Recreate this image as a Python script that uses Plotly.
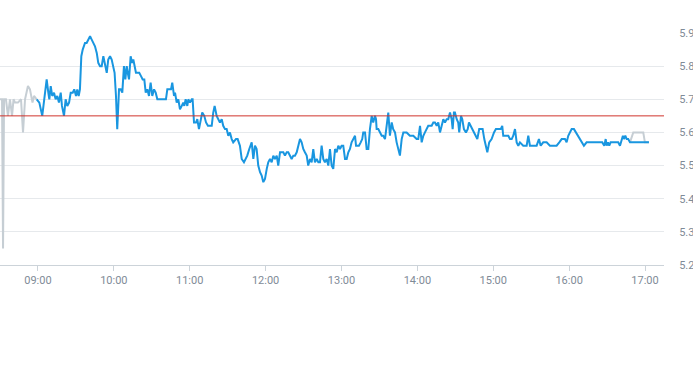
import numpy as np
import pandas as pd
import plotly.graph_objects as go

# ---- data (time in minutes after midnight, price) ----
pre_minutes = [510.0, 511.6, 512.4, 513.2, 514.7, 516.3, 517.9, 519.5, 520.7, 521.9,
               524.2, 526.6, 528.2, 529.8, 532.1, 533.7, 535.7, 536.9, 539.0]
pre_prices = [5.70, 5.70, 5.25, 5.70, 5.70, 5.65, 5.70, 5.65, 5.70, 5.69,
              5.69, 5.70, 5.60, 5.70, 5.74, 5.73, 5.69, 5.71, 5.70]

main_minutes = [
    539.0, 541.1, 543.4, 545.6, 546.9, 548.2, 549.0, 550.1, 551.3, 552.7,
    554.0, 555.3, 556.6, 558.0, 559.0, 560.6, 561.9, 563.2, 564.6, 565.9,
    567.5, 568.7, 570.1, 571.1, 572.2, 573.2, 574.3, 575.4, 576.4, 577.2,
    578.5, 579.8, 581.2, 582.5, 583.8, 585.1, 586.5, 587.7, 589.1, 590.4,
    591.7, 593.0, 594.4, 595.6, 597.0, 598.3, 599.6, 600.6, 601.7, 602.7,
    604.1, 605.4, 606.7, 608.0, 609.1, 610.2, 611.0, 612.0, 613.3, 614.4,
    615.4, 616.5, 617.5, 618.9, 620.1, 621.5, 622.8, 624.1, 625.2, 626.5,
    627.8, 629.1, 630.4, 631.8, 633.1, 634.4, 637.0, 639.1, 641.2, 642.3,
    643.8, 645.2, 646.2, 647.6, 648.4, 649.7, 651.0, 652.3, 653.7, 654.9,
    655.7, 656.8, 658.1, 658.9, 660.2, 661.6, 662.3, 663.4, 665.0, 666.0,
    667.3, 668.7, 669.9, 671.5, 672.9, 674.4, 676.0, 677.4, 678.6, 679.7,
    681.3, 682.6, 683.9, 685.3, 686.5, 687.9, 689.2, 690.5, 691.8, 693.2,
    694.4, 696.6, 697.9, 699.7, 701.1, 702.9, 704.3, 705.5, 707.1, 709.0,
    710.3, 711.6, 712.9, 714.2, 715.6, 716.9, 718.2, 719.5, 720.9, 722.1,
    723.5, 724.8, 726.1, 727.4, 728.8, 730.0, 731.4, 732.7, 734.0, 735.3,
    736.7, 737.9, 739.3, 740.6, 741.9, 743.2, 744.6, 745.8, 747.2, 748.5,
    749.8, 751.1, 752.5, 753.7, 755.1, 756.4, 757.7, 759.0, 760.4, 761.7,
    763.0, 764.3, 765.6, 766.9, 768.3, 769.6,
    770.9, 772.2, 773.5, 774.9, 776.2, 777.5, 778.8, 780.1, 781.4, 782.8,
    784.1, 785.4, 786.7, 788.0, 789.3, 790.7, 791.5, 792.5, 793.8, 795.2,
    796.4, 797.2, 798.6, 799.9, 801.2, 802.5, 803.9, 805.1, 806.5, 807.3,
    807.8, 809.1, 810.4, 811.8, 813.0, 814.4, 815.7, 817.0, 818.3, 819.7,
    820.9, 822.3, 823.6, 824.9, 826.2, 827.6, 828.9, 831.5, 834.1, 836.8,
    839.4, 840.7, 842.1, 843.4, 844.7, 846.0, 847.3, 848.6, 850.0, 851.3,
    852.6, 853.9, 855.3, 856.5, 857.9, 859.2,
    860.5, 861.8, 863.2, 864.4, 865.8, 867.1, 867.9, 868.9, 869.7, 871.1,
    872.3, 873.1, 874.5, 875.5, 876.8, 878.4, 879.8, 880.8, 882.1, 883.4,
    884.7, 886.1, 887.4, 888.9, 890.3, 891.6, 892.9, 894.0, 895.3, 896.8,
    898.7, 900.6, 902.1, 904.0, 905.9, 907.1, 907.9, 909.3, 910.6, 911.9,
    913.2, 914.6, 915.8, 917.2, 918.5, 919.8, 921.1, 923.7, 926.4, 927.7,
    929.0, 931.6, 934.3, 936.1, 937.5, 939.5, 942.2, 944.8,
    947.4, 950.1, 952.2, 954.1, 956.7, 958.0, 959.3, 960.6, 962.0, 963.8,
    965.4, 967.2, 969.1, 970.4, 971.7, 973.8, 976.5, 979.1, 981.8, 984.4,
    986.2, 987.8, 988.9, 989.7, 990.7, 991.7, 992.8, 993.8, 994.9, 996.2,
    997.6, 998.8, 1000.2, 1001.5, 1002.5, 1003.3, 1004.4, 1005.5, 1006.7, 1008.1,
    1023.1]
main_prices = [
    5.70, 5.69, 5.65, 5.73, 5.76, 5.72, 5.70, 5.74, 5.71, 5.72,
    5.70, 5.71, 5.69, 5.72, 5.68, 5.65, 5.70, 5.68, 5.69, 5.72,
    5.72, 5.73, 5.71, 5.73, 5.71, 5.73, 5.83, 5.85, 5.86, 5.87,
    5.87, 5.88, 5.89, 5.88, 5.87, 5.86, 5.84, 5.81, 5.80, 5.80,
    5.83, 5.80, 5.78, 5.82, 5.83, 5.82, 5.80, 5.78, 5.71, 5.61,
    5.73, 5.73, 5.72, 5.80, 5.76, 5.80, 5.78, 5.76, 5.83, 5.81,
    5.82, 5.80, 5.78, 5.78, 5.78, 5.77, 5.76, 5.76, 5.72, 5.73,
    5.71, 5.75, 5.71, 5.73, 5.72, 5.70, 5.70, 5.70, 5.70, 5.73,
    5.73, 5.73, 5.75, 5.71, 5.72, 5.69, 5.70, 5.67, 5.68, 5.69,
    5.68, 5.70, 5.68, 5.70, 5.69, 5.70, 5.70, 5.63, 5.63, 5.64,
    5.61, 5.64, 5.66, 5.65, 5.63, 5.62, 5.62, 5.62, 5.66, 5.68,
    5.65, 5.64, 5.63, 5.64, 5.62, 5.61, 5.61, 5.59, 5.60, 5.58,
    5.57, 5.58, 5.58, 5.56, 5.52, 5.51, 5.52, 5.53, 5.55, 5.57,
    5.52, 5.56, 5.55, 5.50, 5.48, 5.47, 5.45, 5.46, 5.49, 5.51,
    5.52, 5.51, 5.53, 5.52, 5.53, 5.50, 5.54, 5.54, 5.54, 5.53,
    5.54, 5.54, 5.53, 5.52, 5.53, 5.53, 5.54, 5.56, 5.58, 5.57,
    5.55, 5.54, 5.53, 5.50, 5.52, 5.51, 5.55, 5.51, 5.52, 5.51,
    5.51, 5.56, 5.52, 5.51, 5.52, 5.50,
    5.55, 5.50, 5.49, 5.55, 5.54, 5.56, 5.55, 5.56, 5.56, 5.52,
    5.52, 5.54, 5.55, 5.57, 5.58, 5.59, 5.56, 5.56, 5.56, 5.57,
    5.58, 5.60, 5.60, 5.55, 5.55, 5.61, 5.65, 5.63, 5.65, 5.64,
    5.61, 5.61, 5.60, 5.59, 5.59, 5.58, 5.62, 5.66, 5.59, 5.63,
    5.61, 5.60, 5.57, 5.55, 5.53, 5.58, 5.60, 5.60, 5.59, 5.59,
    5.58, 5.58, 5.62, 5.57, 5.59, 5.60, 5.61, 5.62, 5.62, 5.62,
    5.63, 5.63, 5.62, 5.63, 5.60, 5.62,
    5.64, 5.63, 5.64, 5.64, 5.66, 5.64, 5.61, 5.66, 5.66, 5.64,
    5.63, 5.60, 5.65, 5.64, 5.61, 5.60, 5.61, 5.63, 5.62, 5.61,
    5.60, 5.59, 5.58, 5.61, 5.61, 5.61, 5.58, 5.56, 5.54, 5.57,
    5.58, 5.60, 5.61, 5.61, 5.61, 5.62, 5.59, 5.59, 5.59, 5.59,
    5.58, 5.58, 5.59, 5.61, 5.57, 5.56, 5.57, 5.56, 5.56, 5.59,
    5.56, 5.56, 5.56, 5.58, 5.56, 5.57, 5.57, 5.56,
    5.56, 5.56, 5.57, 5.58, 5.58, 5.57, 5.59, 5.60, 5.61, 5.61,
    5.60, 5.59, 5.58, 5.57, 5.56, 5.57, 5.57, 5.57, 5.57, 5.57,
    5.57, 5.56, 5.58, 5.56, 5.57, 5.56, 5.57, 5.57, 5.57, 5.57,
    5.57, 5.57, 5.56, 5.58, 5.59, 5.58, 5.59, 5.58, 5.58, 5.57,
    5.57]

post_minutes = [1008.1, 1010.7, 1018.6, 1019.9, 1023.1]
post_prices = [5.57, 5.60, 5.60, 5.57, 5.57]

prev_close = 5.65

hour_labels = ["09:00", "10:00", "11:00", "12:00", "13:00",
               "14:00", "15:00", "16:00", "17:00"]
y_ticks = [5.2, 5.3, 5.4, 5.5, 5.6, 5.7, 5.8, 5.9]
x_window = [510, 1035]   # 08:30 .. 17:15 in minutes
y_window = [5.2, 5.9]

# ---- build ----
base = pd.Timestamp("2024-03-15")


def to_time(mins):
    return base + pd.to_timedelta(np.asarray(mins, dtype=float), unit="m")


tickvals = [base + pd.Timedelta(hours=int(h[:2]), minutes=int(h[3:])) for h in hour_labels]

GREY_LINE = "#c6ced4"
BLUE = "#1996e0"
TXT = "#7f8b97"

fig = go.Figure()
fig.add_trace(go.Scatter(x=to_time(pre_minutes), y=pre_prices, mode="lines",
                         line=dict(color=GREY_LINE, width=2), hoverinfo="skip"))
fig.add_trace(go.Scatter(x=to_time(post_minutes), y=post_prices, mode="lines",
                         line=dict(color=GREY_LINE, width=2), hoverinfo="skip"))
fig.add_trace(go.Scatter(x=to_time(main_minutes), y=main_prices, mode="lines",
                         line=dict(color=BLUE, width=2)))

fig.add_shape(type="line", xref="paper", x0=0, x1=1, yref="y",
              y0=prev_close, y1=prev_close, line=dict(color="#d0342c", width=1))

fig.update_layout(
    width=693, height=365,
    margin=dict(l=0, r=29, t=33, b=100),
    paper_bgcolor="white", plot_bgcolor="white",
    showlegend=False,
    font=dict(family="Roboto, Arial, sans-serif", size=11, color=TXT),
)
fig.update_xaxes(
    type="date",
    range=[to_time([x_window[0]])[0], to_time([x_window[1]])[0]],
    tickvals=tickvals, ticktext=hour_labels,
    showgrid=False, zeroline=False,
    showline=True, linecolor="#ccd3d9", linewidth=1,
    ticks="outside", ticklen=5, tickcolor="#ccd3d9",
    tickfont=dict(size=11, color=TXT),
)
fig.update_yaxes(
    side="right", range=y_window, tickvals=y_ticks,
    ticktext=[f"{v:.1f}" for v in y_ticks],
    showgrid=True, gridcolor="#e6e9ec", gridwidth=1, zeroline=False,
    showline=False,
    ticks="outside", ticklen=12, tickcolor="rgba(0,0,0,0)",
    ticklabeloverflow="allow",
    tickfont=dict(size=11, color=TXT),
)

fig.write_html("out.html", config={"displayModeBar": False},
               post_script="document.body.style.margin='0px';")
